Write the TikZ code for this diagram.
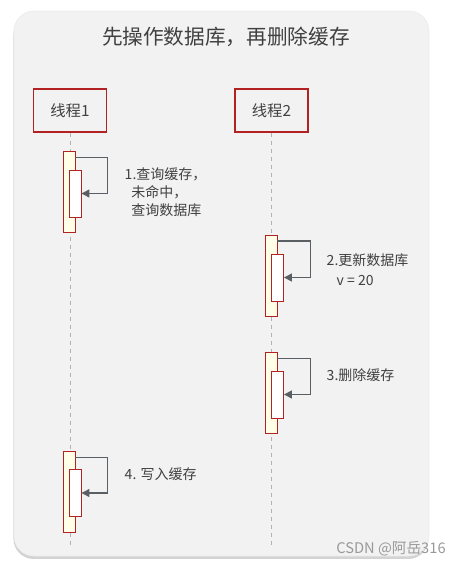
\documentclass[tikz,border=0pt]{standalone}
\usepackage{fontspec}
\setmainfont{Noto Sans CJK SC}
\usepackage{tikz}
\usetikzlibrary{positioning}
\usetikzlibrary{arrows.meta}
\usetikzlibrary{shadows}
\definecolor{panelgray}{HTML}{F2F2F2}
\definecolor{boxred}{HTML}{B22222}
\definecolor{barfill}{HTML}{FFFFE8}
\definecolor{txtgray}{HTML}{404040}
\definecolor{arrgray}{HTML}{5A5F63}

\begin{document}
\begin{tikzpicture}
  [
    x=0.75pt, y=-0.75pt,
    head/.style={draw=boxred, line width=0.8pt, minimum width=54.75pt,
      minimum height=32.25pt, inner sep=0pt, text=txtgray,
      font=\fontsize{11.5}{14}\selectfont},
    actbar/.style={draw=boxred, line width=0.7pt, fill=barfill,
      minimum width=9pt, minimum height=60.75pt, inner sep=0pt},
    subbar/.style={draw=boxred, line width=0.7pt, fill=white,
      minimum width=9pt, minimum height=35.25pt, inner sep=0pt},
    life/.style={draw=black!30, dashed},
    self/.style={draw=arrgray, line width=1pt, -{Triangle[length=6pt,width=6pt]}},
    note/.style={text=txtgray, align=left, inner sep=0pt,
      font=\fontsize{10.5}{13.5}\selectfont}
  ]
  \useasboundingbox (0,0) rectangle (462,565);
  \draw [fill=panelgray, draw=black!8, rounded corners=15pt,
    drop shadow={shadow xshift=-0.4pt, shadow yshift=-2.2pt, opacity=0.35}]
    (14,11) rectangle (429,556);

  \node (title) at (226,37) [text=txtgray, font=\fontsize{15.5}{19}\selectfont]
    {先操作数据库，再删除缓存};

  \node (t1) at (70,110.5)  [head] {线程1};
  \node (t2) at (271.5,110.5) [head] {线程2};

  \coordinate (e1) at (70,546);
  \coordinate (e2) at (271.5,546);
  \draw [life] (t1.south) -- (e1);
  \draw [life] (t2.south) -- (e2);

  \node (a1) at (69,191.5)  [actbar] {};
  \node (s1) at (75,193.5)  [subbar] {};
  \node (a2) at (271,276)   [actbar] {};
  \node (s2) at (277.5,277.5) [subbar] {};
  \node (a3) at (271,392.5) [actbar] {};
  \node (s3) at (277.5,394.5) [subbar] {};
  \node (a4) at (69,491.5)  [actbar] {};
  \node (s4) at (75,493)    [subbar] {};

  \draw [self] (a1.north east) ++(0,7) -- ++(32,0) |- (s1.east);
  \draw [self] (a2.north east) ++(0,6) -- ++(33,0) |- (s2.east);
  \draw [self] (a3.north east) ++(0,7) -- ++(33,0) |- (s3.east);
  \draw [self] (a4.north east) ++(0,7) -- ++(32,0) |- (s4.east);

  \node (n1) [note, below right=13pt and 36.75pt of a1.north east]
    {1.查询缓存，\\\hspace*{5pt}未命中，\\\hspace*{5pt}查询数据库};
  \node (n2) [note, below right=13.5pt and 36.75pt of a2.north east,
    font=\fontsize{10.5}{15}\selectfont]
    {2.更新数据库\\\hspace*{7.5pt}v = 20};
  \node (n3) [note, below right=13pt and 36.75pt of a3.north east]
    {3.删除缓存};
  \node (n4) [note, below right=13pt and 36.75pt of a4.north east]
    {4. 写入缓存};

  \node (mark) at (391,549) [text=black!40, font=\fontsize{11}{13}\selectfont]
    {CSDN @阿岳316};
\end{tikzpicture}
\end{document}
